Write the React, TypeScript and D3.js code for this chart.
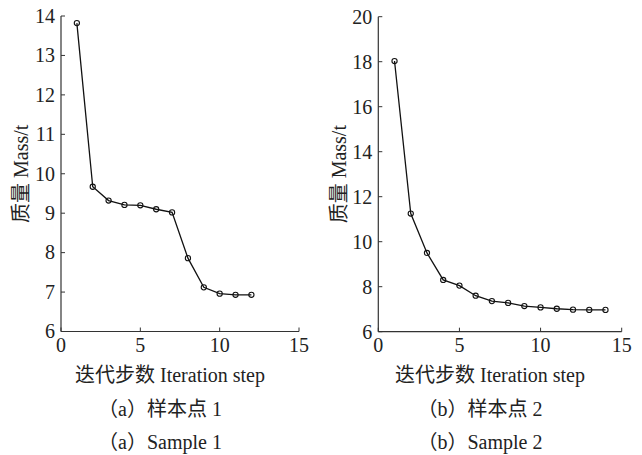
import React from "react";
import * as d3 from "d3";

// sample 1
const steps1 = [1, 2, 3, 4, 5, 6, 7, 8, 9, 10, 11, 12];
const mass1 = [13.82, 9.67, 9.32, 9.21, 9.2, 9.1, 9.02, 7.86, 7.12, 6.96, 6.93, 6.93];

// sample 2
const steps2 = [1, 2, 3, 4, 5, 6, 7, 8, 9, 10, 11, 12, 13, 14];
const mass2 = [18.03, 11.25, 9.5, 8.3, 8.05, 7.6, 7.36, 7.28, 7.14, 7.08, 7.02, 6.98, 6.97, 6.97];

const xTicks = [0, 5, 10, 15];
const yTicks1 = [6, 7, 8, 9, 10, 11, 12, 13, 14];
const yTicks2 = [6, 8, 10, 12, 14, 16, 18, 20];

const xLabel = "迭代步数 Iteration step";
const yLabel = "质量 Mass/t";
const captions1 = ["（a）样本点 1", "（a）Sample 1"];
const captions2 = ["（b）样本点 2", "（b）Sample 2"];

const font = "Liberation Serif, DejaVu Serif, Noto Sans CJK SC, serif";

function Panel(props) {
  const { left, right, top, bottom, xs, ys, yTicks, yMax, captions, yLabelX } = props;
  const x = d3.scaleLinear().domain([0, 15]).range([left, right]);
  const y = d3.scaleLinear().domain([6, yMax]).range([bottom, top]);
  const line = d3.line().x(d => x(d[0])).y(d => y(d[1]));
  const pts = xs.map((v, i) => [v, ys[i]]);
  const mid = (left + right) / 2;
  return (
    <g>
      <line x1={left} x2={left} y1={top} y2={bottom} stroke="#333" strokeWidth={1.2} />
      <line x1={left} x2={right} y1={bottom} y2={bottom} stroke="#333" strokeWidth={1.2} />
      {yTicks.map(t => (
        <g key={t} transform={`translate(${left},${y(t)})`}>
          <line x1={0} x2={4} stroke="#333" strokeWidth={1} />
          <text x={-6} dy="0.34em" textAnchor="end" fontSize={20}>{t}</text>
        </g>
      ))}
      {xTicks.map(t => (
        <g key={t} transform={`translate(${x(t)},${bottom})`}>
          <line y1={0} y2={-4} stroke="#333" strokeWidth={1} />
          <text y={20} textAnchor="middle" fontSize={20}>{t}</text>
        </g>
      ))}
      <path d={line(pts)} fill="none" stroke="#111" strokeWidth={1.3} />
      {pts.map((p, i) => (
        <circle key={i} cx={x(p[0])} cy={y(p[1])} r={2.6} fill="none" stroke="#111" strokeWidth={1.1} />
      ))}
      <text transform={`translate(${yLabelX},${(top + bottom) / 2}) rotate(-90)`} textAnchor="middle" fontSize={20}>{yLabel}</text>
      <text x={mid - 10} y={382} textAnchor="middle" fontSize={20}>{xLabel}</text>
      <text x={mid - 20} y={416} textAnchor="middle" fontSize={20}>{captions[0]}</text>
      <text x={mid - 20} y={449} textAnchor="middle" fontSize={20}>{captions[1]}</text>
    </g>
  );
}

export default function App() {
  return (
    <svg width={642} height={455} style={{ position: "absolute", left: 0, top: 0, background: "#fff", fontFamily: font }}
      fill="#222">
      <Panel left={61} right={299} top={16} bottom={331.5} xs={steps1} ys={mass1}
        yTicks={yTicks1} yMax={14} captions={captions1} yLabelX={28} />
      <Panel left={378.3} right={621.7} top={16.7} bottom={331.7} xs={steps2} ys={mass2}
        yTicks={yTicks2} yMax={20} captions={captions2} yLabelX={346} />
    </svg>
  );
}
